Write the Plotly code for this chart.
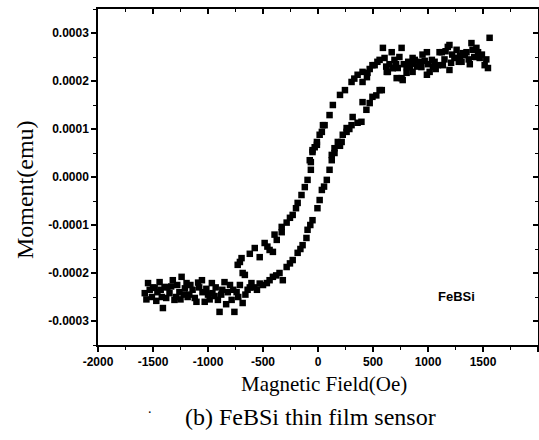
import plotly.graph_objects as go

# Descending-field branch (Oe, moment in 1e-4 emu)
field_down = [1560, 1545, 1515, 1490, 1470, 1440, 1420, 1405, 1395, 1370, 1350, 1335, 1315, 1305,
              1280, 1260, 1240, 1220, 1195, 1195, 1180, 1150, 1135, 1125, 1105, 1090, 1070, 1060,
              1035, 1015, 1000, 990, 990, 950, 940, 925, 900, 880, 860, 860, 835, 805, 780, 760,
              760, 740, 725, 695, 680, 670, 650, 635, 605, 590, 560, 515, 495, 450, 445, 405, 405,
              360, 305, 245, 200, 135, 105, 60, 45, 35, 15, -10, -10, -50, -50, -75, -65, -65,
              -95, -120, -150, -185, -230, -255, -285, -330, -330, -375, -410, -440, -460, -485,
              -575, -530, -695, -710, -730, -685, -665,
              1530, 1455, 1380, 1290, 1210, 1160, 1045, 970, 870, 820, 710, 620, 540, 470, 330,
              -30, -200, -395, -620]
moment_down = [2.90, 2.27, 2.33, 2.55, 2.48, 2.69, 2.50, 2.65, 2.79, 2.45, 2.60, 2.54, 2.58, 2.40,
               2.40, 2.65, 2.48, 2.55, 2.75, 2.23, 2.71, 2.45, 2.33, 2.60, 2.60, 2.33, 2.25, 2.40,
               2.44, 2.19, 2.35, 2.60, 2.13, 2.55, 2.29, 2.40, 2.30, 2.44, 2.48, 2.19, 2.29, 2.29,
               2.35, 2.69, 2.06, 2.50, 2.27, 2.44, 2.27, 2.60, 2.35, 2.19, 2.48, 2.69, 2.44, 2.33,
               2.33, 2.17, 2.08, 2.19, 1.98, 2.13, 1.98, 1.81, 1.71, 1.50, 1.29, 1.08, 1.08, 0.94,
               0.88, 0.73, 0.67, 0.56, 0.52, 0.35, 0.31, 0.15, -0.06, -0.21, -0.375, -0.54, -0.79,
               -0.85, -0.95, -1.04, -1.15, -1.31, -1.56, -1.52, -1.45, -1.375, -1.48, -1.67, -1.69,
               -1.77, -1.83, -2.00, -2.04,
               2.45, 2.60, 2.35, 2.52, 2.38, 2.62, 2.30, 2.42, 2.36, 2.40, 2.35, 2.30, 2.40, 2.25,
               2.05, 0.62, -0.65, -1.20, -1.60]

# Ascending-field branch (Oe, moment in 1e-4 emu)
field_up = [-1575, -1545, -1530, -1510, -1485, -1460, -1440, -1420, -1410, -1395, -1370, -1350,
            -1320, -1305, -1280, -1260, -1240, -1220, -1195, -1185, -1160, -1140, -1105, -1080,
            -1055, -1050, -1030, -1000, -965, -960, -930, -910, -895, -880, -850, -820, -800,
            -785, -760, -740, -710, -685, -640, -605, -580, -555, -500, -465, -410, -350, -320,
            -285, -230, -185, -140, -105, -95, -50, -5, 15, 35, 80, 105, 125, 125, 150, 150, 180,
            215, 225, 260, 260, 305, 315, 360, 395, 405, 470, 495, 560, 580, 625, 680, 715, 770,
            805, 835,
            -1560, -1500, -1470, -1430, -1380, -1335, -1290, -1250, -1210, -1170, -1120, -1090,
            -1015, -985, -940, -870, -835, -770, -725, -660, -620, -530, -440, -380, -255, -160,
            -70, 55, 200, 285, 440, 530]
moment_up = [-2.42, -2.21, -2.35, -2.50, -2.31, -2.40, -2.19, -2.50, -2.73, -2.29, -2.30, -2.42,
             -2.15, -2.56, -2.25, -2.40, -2.08, -2.45, -2.21, -2.50, -2.25, -2.35, -2.60, -2.30,
             -2.15, -2.40, -2.60, -2.45, -2.21, -2.42, -2.30, -2.56, -2.81, -2.45, -2.19, -2.40,
             -2.25, -2.56, -2.81, -2.40, -2.25, -2.625, -2.35, -2.21, -2.30, -2.35, -2.25, -2.21,
             -2.08, -2.00, -2.15, -1.875, -1.73, -1.58, -1.42, -1.27, -1.10, -0.90, -0.65, -0.48,
             -0.27, -0.06, 0.15, 0.35, 0.46, 0.50, 0.60, 0.73, 0.73, 0.88, 0.94, 1.02, 1.08, 1.25,
             1.13, 1.15, 1.56, 1.54, 1.67, 1.81, 1.81, 2.19, 2.27, 2.06, 2.02, 2.17, 2.29,
             -2.55, -2.30, -2.58, -2.35, -2.52, -2.28, -2.50, -2.55, -2.32, -2.45, -2.52, -2.20,
             -2.33, -2.55, -2.48, -2.35, -2.65, -2.35, -2.50, -2.45, -2.30, -2.22, -2.15, -2.05,
             -1.80, -1.50, -1.00, -0.20, 0.65, 1.00, 1.40, 1.70]

x_tick_vals = [-2000, -1500, -1000, -500, 0, 500, 1000, 1500, 2000]
x_tick_text = ["-2000", "-1500", "-1000", "-500", "0", "500", "1000", "1500", "2000"]
y_tick_vals = [-0.0003, -0.0002, -0.0001, 0.0, 0.0001, 0.0002, 0.0003]
y_tick_text = ["-0.0003", "-0.0002", "-0.0001", "0.0000", "0.0001", "0.0002", "0.0003"]

SCALE = 1e-4
xs = field_down + field_up
ys = [m * SCALE for m in moment_down + moment_up]

fig = go.Figure()
fig.add_trace(go.Scatter(x=xs, y=ys, mode="markers",
                         marker=dict(symbol="square", size=6.5, color="black", line=dict(width=0)),
                         showlegend=False, cliponaxis=False))
fig.add_trace(go.Scatter(x=[], y=[], xaxis="x2", yaxis="y2", showlegend=False))

tickfont = dict(family="Liberation Sans", size=12, color="black", weight="bold")
xr = [-2000, 2000]
yr = [-0.00035, 0.00035]

fig.update_layout(
    width=539, height=440,
    margin=dict(l=98, r=1, t=9, b=95),
    paper_bgcolor="white", plot_bgcolor="white",
    xaxis=dict(range=xr, showgrid=False, zeroline=False, showline=True, linecolor="black",
               linewidth=1.5, ticks="outside", ticklen=5, tickwidth=1.5, tickcolor="black",
               tickmode="array", tickvals=x_tick_vals, ticktext=x_tick_text, tickfont=tickfont,
               minor=dict(ticks="outside", ticklen=3, tickwidth=1, tickcolor="black",
                          tickmode="linear", tick0=0, dtick=250, showgrid=False)),
    yaxis=dict(range=yr, showgrid=False, zeroline=False, showline=True, linecolor="black",
               linewidth=1.5, ticks="outside", ticklen=5, tickwidth=1.5, tickcolor="black",
               tickmode="array", tickvals=y_tick_vals, ticktext=y_tick_text, tickfont=tickfont,
               minor=dict(ticks="outside", ticklen=3, tickwidth=1, tickcolor="black",
                          tickmode="linear", tick0=0, dtick=0.00005, showgrid=False)),
    xaxis2=dict(range=xr, overlaying="x", side="top", anchor="y", showgrid=False, zeroline=False,
                showline=True, linecolor="black", linewidth=1.5, ticks="inside", ticklen=5,
                tickwidth=1.5, tickcolor="black", tickmode="array", tickvals=x_tick_vals,
                showticklabels=False,
                minor=dict(ticks="inside", ticklen=3, tickwidth=1, tickcolor="black",
                           tickmode="linear", tick0=0, dtick=250, showgrid=False)),
    yaxis2=dict(range=yr, overlaying="y", side="right", anchor="x", showgrid=False, zeroline=False,
                showline=True, linecolor="black", linewidth=1.5, ticks="inside", ticklen=5,
                tickwidth=1.5, tickcolor="black", tickmode="array", tickvals=y_tick_vals,
                showticklabels=False,
                minor=dict(ticks="inside", ticklen=3, tickwidth=1, tickcolor="black",
                           tickmode="linear", tick0=0, dtick=0.00005, showgrid=False)),
)

serif = "Liberation Serif"
fig.add_annotation(text="Magnetic Field(Oe)", xref="paper", yref="paper", x=0.514, y=-0.116,
                   xanchor="center", yanchor="middle", showarrow=False,
                   font=dict(family=serif, size=21, color="black"))
fig.add_annotation(text="(b) FeBSi thin film sensor", xref="paper", yref="paper", x=0.484,
                   y=-0.214, xanchor="center", yanchor="middle", showarrow=False,
                   font=dict(family=serif, size=24, color="black"))
fig.add_annotation(text="Moment(emu)", xref="paper", yref="paper", x=-0.166, y=0.464,
                   textangle=-90, xanchor="center", yanchor="middle", showarrow=False,
                   font=dict(family=serif, size=24, color="black"))
fig.add_annotation(text="FeBSi", x=1260, y=-0.000248, xref="x", yref="y",
                   xanchor="center", yanchor="middle", showarrow=False,
                   font=dict(family="Liberation Sans", size=13, color="black", weight="bold"))
fig.add_annotation(text=".", xref="paper", yref="paper", x=0.118, y=-0.19,
                   xanchor="center", yanchor="middle", showarrow=False,
                   font=dict(family=serif, size=14, color="black"))

fig.write_html("out.html")
